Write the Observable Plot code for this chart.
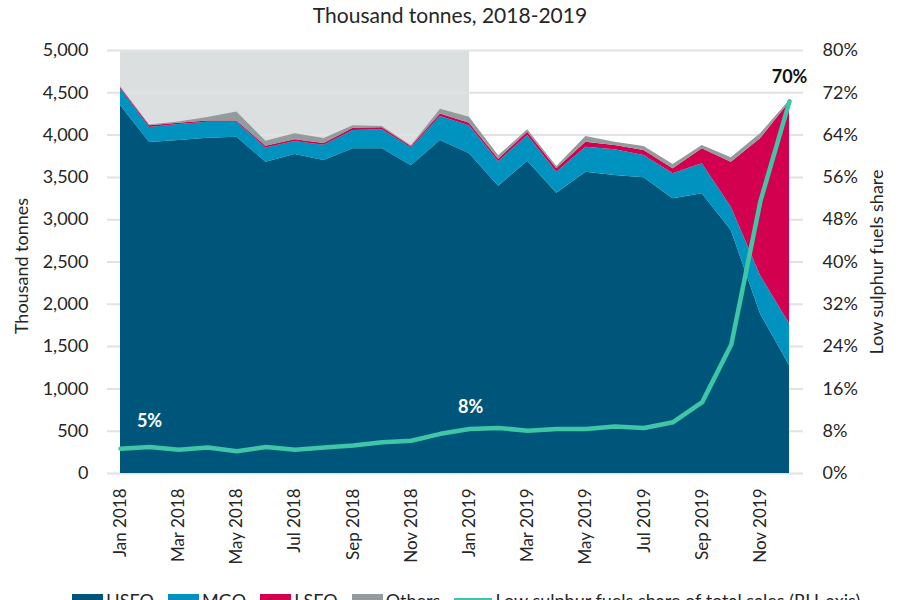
<!DOCTYPE html>
<html>
<head>
<meta charset="utf-8">
<script src="https://cdn.jsdelivr.net/npm/d3@7"></script>
<script src="https://cdn.jsdelivr.net/npm/@observablehq/plot@0.6"></script>
<style>
  html, body { margin: 0; padding: 0; background: #fff; overflow: hidden; }
  body { width: 900px; height: 600px; position: relative; font-family: Lato, "Open Sans", sans-serif; color: #262626; }
  #title { height: 30px; line-height: 30px; text-align: center; font-size: 21px; }
  #chart svg { display: block; }
  #legend { position: absolute; top: 589px; left: 72px; display: flex; align-items: center; gap: 14px; font-size: 18px; white-space: nowrap; }
  #legend .item { display: flex; align-items: center; gap: 3px; }
  #legend .sw { width: 31px; height: 13px; }
  #legend .ln { width: 38px; height: 4px; }
</style>
</head>
<body>
<div id="title">Thousand tonnes, 2018-2019</div>
<div id="chart"></div>
<div id="legend"></div>
<script>
// Monthly marine fuel sales, thousand tonnes
const months = [
  "Jan 2018","Feb 2018","Mar 2018","Apr 2018","May 2018","Jun 2018",
  "Jul 2018","Aug 2018","Sep 2018","Oct 2018","Nov 2018","Dec 2018",
  "Jan 2019","Feb 2019","Mar 2019","Apr 2019","May 2019","Jun 2019",
  "Jul 2019","Aug 2019","Sep 2019","Oct 2019","Nov 2019","Dec 2019"
];
const hsfo   = [4350,3913,3936,3963,3975,3680,3770,3700,3838,3838,3637,3936,3779,3396,3692,3314,3562,3522,3495,3247,3306,2872,1887,1277];
const mgo    = [197,177,189,189,177,169,154,181,217,225,213,284,331,290,303,248,295,304,264,296,355,276,453,492];
const lsfo   = [15,20,15,15,15,20,20,20,25,25,15,30,30,30,40,40,59,51,59,59,177,532,1616,2620];
const others = [10,10,15,40,106,59,71,59,31,15,10,55,71,40,27,27,67,39,47,50,39,51,59,20];
// Low sulphur fuels share of total sales, %
const share  = [4.7,5.0,4.5,4.9,4.2,5.0,4.5,4.9,5.3,5.9,6.2,7.5,8.4,8.6,8.1,8.4,8.4,8.9,8.6,9.7,13.5,24.4,51.5,70.4];

const series = ["HSFO","MGO","LSFO","Others"];
const seriesColors = ["#00557a","#0093bf","#d3004f","#939b9d"];
const lineName = "Low sulphur fuels share of total sales (RH-axis)";
const lineColor = "#3ec6a7";

const tickMonths = ["Jan 2018","Mar 2018","May 2018","Jul 2018","Sep 2018","Nov 2018",
                    "Jan 2019","Mar 2019","May 2019","Jul 2019","Sep 2019","Nov 2019"];
const leftTicks = [0,500,1000,1500,2000,2500,3000,3500,4000,4500,5000];
const rightTicks = [0,8,16,24,32,40,48,56,64,72,80];
const leftTitle = "Thousand tonnes";
const rightTitle = "Low sulphur fuels share";
const shadedSpan = ["Jan 2018","Jan 2019"];

const yMax = 5000, shareMax = 80;
const toY = s => s * yMax / shareMax;

const values = [hsfo, mgo, lsfo, others];
const rows = [];
series.forEach((name, k) => values[k].forEach((v, i) => rows.push({i, name, v})));

const shadeRows = [{from: months.indexOf(shadedSpan[0]), to: months.indexOf(shadedSpan[1])}];

// share callouts at the start, at January 2019 and at the end of the period
function callout(month, opts) {
  const i = months.indexOf(month);
  return Plot.text([{i, s: share[i]}], {
    x: "i", y: d => toY(d.s), text: d => Math.round(d.s) + "%",
    fontWeight: "bold", fontSize: 18, ...opts
  });
}

const chart = Plot.plot({
  width: 900,
  height: 560,
  marginTop: 20,
  marginBottom: 117,
  marginLeft: 107,
  marginRight: 97,
  style: {fontFamily: "Lato, 'Open Sans', sans-serif", fontSize: "18px", color: "#262626", background: "transparent"},
  x: {domain: [0, months.length - 1], insetLeft: 13, insetRight: 14},
  y: {domain: [0, yMax]},
  color: {domain: series, range: seriesColors},
  marks: [
    Plot.rect(shadeRows, {x1: "from", x2: "to", y1: 0, y2: yMax, fill: "#dcdfe0"}),
    Plot.gridY(leftTicks, {stroke: "#e2e2e2", strokeOpacity: 1, strokeWidth: 2}),
    Plot.areaY(rows, {x: "i", y: "v", fill: "name", order: series}),
    Plot.line(share, {x: (d, i) => i, y: d => toY(d), stroke: lineColor, strokeWidth: 4.5, strokeLinejoin: "round"}),
    callout("Jan 2018", {fill: "white", dx: 29, dy: -27}),
    callout("Jan 2019", {fill: "white", dx: 1, dy: -22}),
    callout("Dec 2019", {fill: "#111", dy: -24}),
    Plot.axisX(tickMonths.map(m => months.indexOf(m)), {
      tickFormat: i => months[i], tickRotate: -90, tickSize: 0, tickPadding: 15,
      fontSize: 17, label: null
    }),
    Plot.axisY(leftTicks, {
      anchor: "left", tickFormat: d3.format(","), tickSize: 0, tickPadding: 19, label: null
    }),
    Plot.axisY(rightTicks.map(toY), {
      anchor: "right", tickFormat: v => Math.round(v * shareMax / yMax) + "%",
      tickSize: 0, tickPadding: 19, label: null
    }),
    Plot.text([leftTitle], {frameAnchor: "left", textAnchor: "middle", text: d => d, rotate: -90, dx: -85, dy: 4, fontSize: 18}),
    Plot.text([rightTitle], {frameAnchor: "right", textAnchor: "middle", text: d => d, rotate: -90, dx: 74, fontSize: 18})
  ]
});
document.getElementById("chart").appendChild(chart);

// Legend
const legend = document.getElementById("legend");
series.forEach((name, k) => {
  const item = document.createElement("div");
  item.className = "item";
  item.innerHTML = `<span class="sw" style="background:${seriesColors[k]}"></span><span>${name}</span>`;
  legend.appendChild(item);
});
const lineItem = document.createElement("div");
lineItem.className = "item";
lineItem.innerHTML = `<span class="ln" style="background:${lineColor}"></span><span>${lineName}</span>`;
legend.appendChild(lineItem);
</script>
</body>
</html>
